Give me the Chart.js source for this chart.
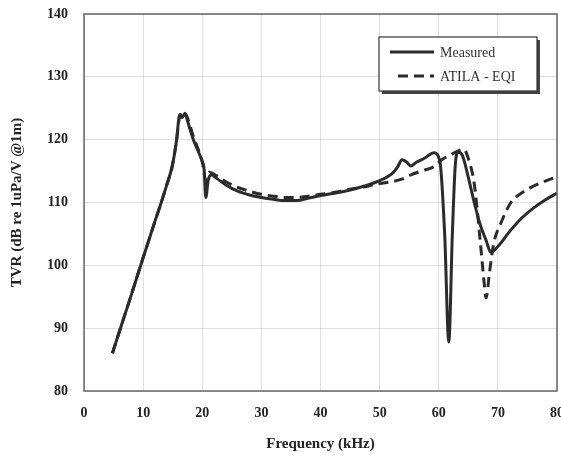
<!DOCTYPE html>
<html>
<head>
<meta charset="utf-8">
<script src="https://cdn.jsdelivr.net/npm/chart.js@4/dist/chart.umd.min.js"></script>
<style>
  html, body { margin: 0; padding: 0; background: #fff; }
  #wrap { width: 561px; height: 459px; }
</style>
</head>
<body>
<div id="wrap"><canvas id="c"></canvas></div>
<script>
// TVR curves (kHz, dB re 1uPa/V @1m)
const freqMeasured = [4.8, 6, 8, 10, 12, 13.2, 14, 14.9, 15.6, 16.2, 16.6, 17.1, 17.5, 18.5, 19.3, 20.0, 20.3, 20.6, 21.0, 21.5, 22.5, 24, 26, 28, 30, 32, 34, 36, 38, 40, 43, 45, 47, 49, 50.5, 52, 53, 53.8, 54.6, 55.3, 56.2, 57.5, 59.2, 60.2, 61, 61.7, 62.3, 62.8, 63.3, 64, 65, 66, 67, 68, 68.8, 70, 72, 74, 76, 78, 80];
const tvrMeasured  = [86, 89.5, 95.3, 101.2, 107, 110.4, 112.8, 115.7, 119.5, 124, 123.5, 124.2, 123, 120, 118.2, 116.5, 115.5, 110.8, 113.5, 114.4, 113.8, 112.8, 111.8, 111.2, 110.8, 110.5, 110.3, 110.3, 110.7, 111.1, 111.6, 112, 112.5, 113.1, 113.7, 114.5, 115.6, 116.8, 116.4, 115.8, 116.4, 117, 117.9, 116.5, 105, 87.8, 105, 116, 118, 117.5, 114, 110, 106.5, 104, 102.1, 103, 105.4, 107.5, 109.1, 110.4, 111.5];

const freqAtila = [4.8, 6, 8, 10, 12, 13.2, 14, 14.9, 15.6, 16.3, 16.7, 17.2, 17.6, 18.5, 19.3, 20.0, 20.6, 21.2, 22.5, 24, 26, 28, 30, 32, 34, 36, 38, 40, 43, 45, 48, 50, 52, 54, 55.3, 57, 59.2, 60.5, 62, 63.5, 64.2, 65, 66, 67, 67.6, 68, 68.6, 69.3, 70.5, 72.2, 74, 75.6, 78, 80];
const tvrAtila  = [86, 89.5, 95.3, 101.2, 107, 110.4, 112.8, 115.7, 119.5, 124, 123.4, 124, 123.2, 120.5, 118.5, 116.5, 113.5, 114.8, 114.2, 113.3, 112.4, 111.8, 111.3, 111, 110.8, 110.8, 111, 111.3, 111.7, 112.1, 112.6, 113, 113.3, 113.8, 114.4, 115, 115.7, 116.8, 117.6, 118.3, 118.5, 117, 113, 104, 98, 94.8, 99, 103.5, 106.7, 110, 111.5, 112.4, 113.4, 114.1];

const seriesNames = ['Measured', 'ATILA - EQI'];
const xTicks = [0, 10, 20, 30, 40, 50, 60, 70, 80];
const yTicks = [80, 90, 100, 110, 120, 130, 140];

function toPoints(xs, ys) {
    let pts = [];
    for (let i = 0; i < xs.length; i++) pts.push({x: xs[i], y: ys[i]});
    return pts;
}

const lineColor = '#2b2b2b';
const serif = '"Liberation Serif", "DejaVu Serif", serif';

// box round the plot + the little legend inside it
const framePlugin = {
    id: 'frame',
    afterDraw(chart) {
        const ctx = chart.ctx;
        const a = chart.chartArea;
        ctx.save();
        ctx.strokeStyle = '#666';
        ctx.lineWidth = 1.5;
        ctx.strokeRect(a.left, a.top, a.right - a.left, a.bottom - a.top);

        // legend
        const lx = 379, ly = 37, lw = 158, lh = 54;
        ctx.fillStyle = '#444';
        ctx.fillRect(lx + 3, ly + 3, lw, lh);
        ctx.fillStyle = '#fff';
        ctx.fillRect(lx, ly, lw, lh);
        ctx.strokeStyle = '#333';
        ctx.lineWidth = 1.2;
        ctx.strokeRect(lx, ly, lw, lh);

        ctx.font = '14px ' + serif;
        ctx.textBaseline = 'middle';
        chart.data.datasets.forEach((ds, i) => {
            const yy = ly + 15 + i * 24;
            ctx.strokeStyle = ds.borderColor;
            ctx.lineWidth = ds.borderWidth;
            ctx.setLineDash(ds.borderDash || []);
            ctx.beginPath();
            ctx.moveTo(i == 0 ? lx + 11 : lx + 19, yy);
            ctx.lineTo(lx + 55, yy);
            ctx.stroke();
            ctx.setLineDash([]);
            ctx.fillStyle = '#333';
            ctx.fillText(ds.label, lx + 61, yy + 1);
        });
        ctx.restore();
    }
};

new Chart(document.getElementById('c'), {
    type: 'line',
    data: {
        datasets: [
            { label: seriesNames[0], data: toPoints(freqMeasured, tvrMeasured), borderColor: lineColor, borderWidth: 3, pointRadius: 0, cubicInterpolationMode: 'monotone', fill: false },
            { label: seriesNames[1], data: toPoints(freqAtila, tvrAtila), borderColor: lineColor, borderWidth: 3, borderDash: [10, 6], pointRadius: 0, cubicInterpolationMode: 'monotone', fill: false }
        ]
    },
    options: {
        responsive: true,
        maintainAspectRatio: false,
        animation: false,
        layout: { padding: { left: 0, right: 4, top: 14, bottom: 0 } },
        plugins: { legend: { display: false }, tooltip: { enabled: false } },
        scales: {
            x: {
                type: 'linear', min: 0, max: 80,
                afterBuildTicks: s => { s.ticks = xTicks.map(v => ({value: v})); },
                afterFit: s => { s.height = 68; s.paddingLeft = 0; s.paddingRight = 0; },
                grid: { color: 'rgba(0,0,0,0.12)', drawTicks: false },
                border: { display: false },
                ticks: { padding: 14, color: '#222', font: { family: serif, size: 14, weight: 'bold' } },
                title: { display: true, text: 'Frequency (kHz)', color: '#222', padding: { top: 0, bottom: 6 }, font: { family: serif, size: 15, weight: 'bold' } }
            },
            y: {
                min: 80, max: 140,
                afterBuildTicks: s => { s.ticks = yTicks.map(v => ({value: v})); },
                afterFit: s => { s.width = 84; s.paddingTop = 0; s.paddingBottom = 0; },
                grid: { color: 'rgba(0,0,0,0.12)', drawTicks: false },
                border: { display: false },
                ticks: { padding: 16, color: '#222', font: { family: serif, size: 14, weight: 'bold' } },
                title: { display: true, text: 'TVR (dB re 1uPa/V @1m)', color: '#222', padding: { top: 8, bottom: 0 }, font: { family: serif, size: 15, weight: 'bold' } }
            }
        }
    },
    plugins: [framePlugin]
});
</script>
</body>
</html>
